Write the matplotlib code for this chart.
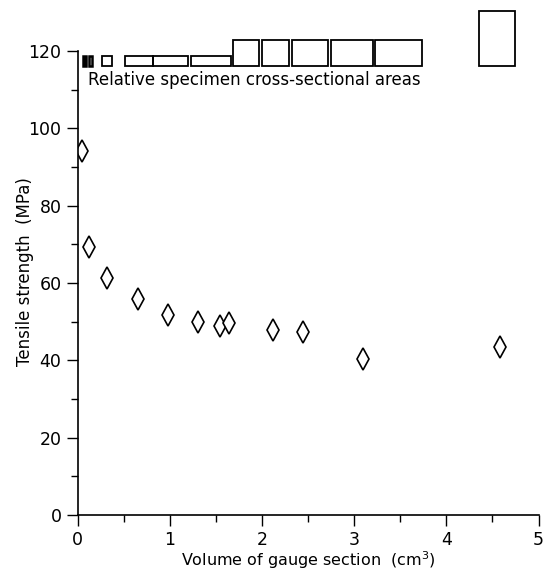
import matplotlib
matplotlib.use("Agg")
from matplotlib import pyplot as plt
from matplotlib.patches import Rectangle
from matplotlib.ticker import MultipleLocator

# volume of gauge section (cm^3) vs tensile strength (MPa)
volume = [0.052, 0.125, 0.323, 0.653, 0.978, 1.31, 1.55, 1.64, 2.12, 2.45, 3.10, 4.58]
strength = [94.1, 69.3, 61.4, 55.9, 51.7, 50.0, 48.9, 49.7, 47.8, 47.2, 40.3, 43.4]

# relative cross-sectional area boxes drawn above the data (left, width, height)
box_left = [0.058, 0.12, 0.262, 0.518, 0.816, 1.228, 1.683, 2.002, 2.323, 2.746, 3.227, 4.358]
box_width = [0.03, 0.035, 0.108, 0.298, 0.387, 0.434, 0.289, 0.296, 0.399, 0.462, 0.507, 0.387]
box_height = [2.7, 2.7, 2.7, 2.7, 2.7, 2.7, 6.9, 6.9, 6.9, 6.9, 6.9, 14.4]
box_base = 116.0

fig = plt.figure(figsize=(5.47, 5.72), dpi=100)
ax = fig.add_axes([0.1417, 0.0997, 0.8428, 0.8111])

ax.plot(volume, strength, linestyle="none", marker="d", markersize=11,
        markerfacecolor="white", markeredgecolor="black", markeredgewidth=1.2)

for i in range(len(box_left)):
    ax.add_patch(Rectangle((box_left[i], box_base), box_width[i], box_height[i],
                           facecolor="black" if i == 0 else "none",
                           edgecolor="black", linewidth=1.8 if i < 2 else 1.3,
                           clip_on=False))

ax.text(0.11, 112.4, "Relative specimen cross-sectional areas", fontsize=12,
        ha="left", va="center")

ax.set_xlim(0, 5)
ax.set_ylim(0, 120)
ax.xaxis.set_major_locator(MultipleLocator(1))
ax.xaxis.set_minor_locator(MultipleLocator(0.5))
ax.yaxis.set_major_locator(MultipleLocator(20))
ax.yaxis.set_minor_locator(MultipleLocator(10))
ax.tick_params(which="major", direction="out", length=8, width=1, labelsize=12.5)
ax.tick_params(which="minor", direction="out", length=5, width=1)
ax.spines["top"].set_visible(False)
ax.spines["right"].set_visible(False)
ax.spines["left"].set_linewidth(1.2)
ax.spines["bottom"].set_linewidth(1.2)

ax.set_xlabel("Volume of gauge section  (cm$^3$)", fontsize=11.5, labelpad=0)
ax.set_ylabel("Tensile strength  (MPa)", fontsize=12)
ax.yaxis.set_label_coords(-0.095, 0.525)

fig.savefig("out.png", dpi=100)
